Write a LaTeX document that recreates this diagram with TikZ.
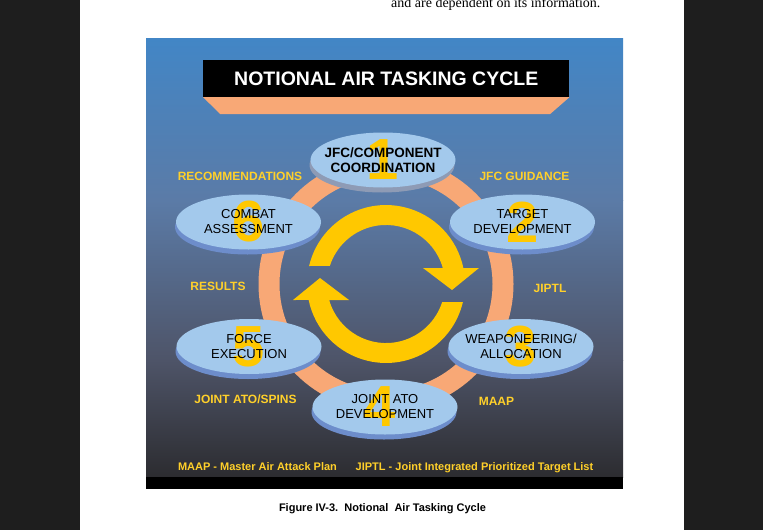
\documentclass[tikz,border=0pt]{standalone}
\usepackage{fontspec}
\setmainfont{Liberation Sans}
\newfontfamily\pagefont{Liberation Serif}
\usetikzlibrary{shapes.geometric,shadows}
\definecolor{sidegray}{HTML}{1E1E1E}
\definecolor{skytop}{HTML}{4286C6}
\definecolor{skymid}{HTML}{5B7BA7}
\definecolor{skylow}{HTML}{4E5468}
\definecolor{skybot}{HTML}{2C2C30}
\definecolor{ringorange}{HTML}{F8A876}
\definecolor{faceblue}{HTML}{A3C9EC}
\definecolor{rimblue}{HTML}{6D8DCB}
\definecolor{rimgray}{HTML}{8E9BB5}
\definecolor{gold}{HTML}{FFC800}
\definecolor{labelgold}{HTML}{FFD02A}
\def\cyclearrow{(-76.9,18) arc[start angle=166.8,end angle=11.7,radius=79] -- (93,16) -- (66,-6) -- (37,16) -- (56.8,16) arc[start angle=15.7,end angle=162.2,radius=59] -- cycle}
\tikzset{
  stage/.style={ellipse, fill=faceblue, inner sep=0, minimum width=145pt, minimum height=55pt,
    general shadow={fill=#1, shadow xshift=-1pt, shadow yshift=-5pt}},
  stage/.default=rimblue,
  stagetext/.style={align=center, inner sep=0, font=\fontsize{13}{15}\selectfont},
  boldtext/.style={align=center, inner sep=0, font=\bfseries\fontsize{13.5}{15.5}\selectfont},
  digit/.style={text=gold, inner sep=0, font=\bfseries\fontsize{58}{58}\selectfont},
  tag/.style={text=labelgold, inner sep=0, font=\bfseries\fontsize{12}{14}\selectfont},
  foot/.style={text=labelgold, anchor=base, font=\bfseries\fontsize{11}{13}\selectfont}
}
\begin{document}
\begin{tikzpicture}[x=1pt,y=-1pt]
\useasboundingbox (0,0) rectangle (763,530);
\fill[sidegray] (0,0) rectangle (80,530);
\fill[sidegray] (684,0) rectangle (763,530);
\node[font=\pagefont\fontsize{14}{16}\selectfont, anchor=base west, inner sep=0] (pagetext) at (391,8) {and are dependent on its information.};

\shade[top color=skytop, bottom color=skymid] (146,38) rectangle (623,200.5);
\shade[top color=skymid, bottom color=skylow] (146,200) rectangle (623,360.5);
\shade[top color=skylow, bottom color=skybot] (146,360) rectangle (623,477);
\fill[black] (146,477) rectangle (623,489);

\node[fill=black, text=white, inner sep=0, minimum width=366pt, minimum height=37pt,
  font=\bfseries\fontsize{19.5}{22}\selectfont] (title) at (386.25,78.5) {NOTIONAL AIR TASKING CYCLE};
\fill[ringorange] (title.south west) -- (title.south east) -- ++(-19.5,17) -- ++(-329.5,0) -- cycle;

\draw[ringorange, line width=21pt] (386,284) circle[radius=117];
\begin{scope}[shift={(386,284)}, yscale=-1]
  \fill[gold] \cyclearrow;
  \fill[gold, rotate=180] \cyclearrow;
\end{scope}

\node[stage=rimgray] (s1) at (383,160) {};
\node[digit] (d1) at (s1) {1};
\node[boldtext] (t1) at (s1) {JFC/COMPONENT\\COORDINATION};

\node[stage] (s2) at (522.5,222) {};
\node[digit] (d2) at (s2) {2};
\node[stagetext] (t2) at (s2) {TARGET\\DEVELOPMENT};

\node[stage] (s3) at (521,346.5) {};
\node[digit] (d3) at (s3) {3};
\node[stagetext] (t3) at (s3) {WEAPONEERING/\\ALLOCATION};

\node[stage] (s4) at (385,407) {};
\node[digit] (d4) at ([xshift=-5pt]s4) {4};
\node[stagetext] (t4) at (s4) {JOINT ATO\\DEVELOPMENT};

\node[stage] (s5) at (249,346.5) {};
\node[digit] (d5) at (s5) {5};
\node[stagetext] (t5) at (s5) {FORCE\\EXECUTION};

\node[stage] (s6) at (248.5,222) {};
\node[digit] (d6) at (s6) {6};
\node[stagetext] (t6) at (s6) {COMBAT\\ASSESSMENT};

\node[tag] (recommend) at (240,176) {RECOMMENDATIONS};
\node[tag] (guidance) at (524.5,176) {JFC GUIDANCE};
\node[tag] (results) at (218,286) {RESULTS};
\node[tag] (jiptl) at (550,288) {JIPTL};
\node[tag] (spins) at (245.5,399) {JOINT ATO/SPINS};
\node[tag] (maap) at (496.5,401) {MAAP};

\node[foot] (maapkey) at (257.5,470) {MAAP - Master Air Attack Plan};
\node[foot] (jiptlkey) at (474.5,470) {JIPTL - Joint Integrated Prioritized Target List};
\node[anchor=base, font=\bfseries\fontsize{11}{13}\selectfont] (caption) at (382.5,511) {Figure IV-3.\ \ Notional\ \ Air Tasking Cycle};
\end{tikzpicture}
\end{document}
